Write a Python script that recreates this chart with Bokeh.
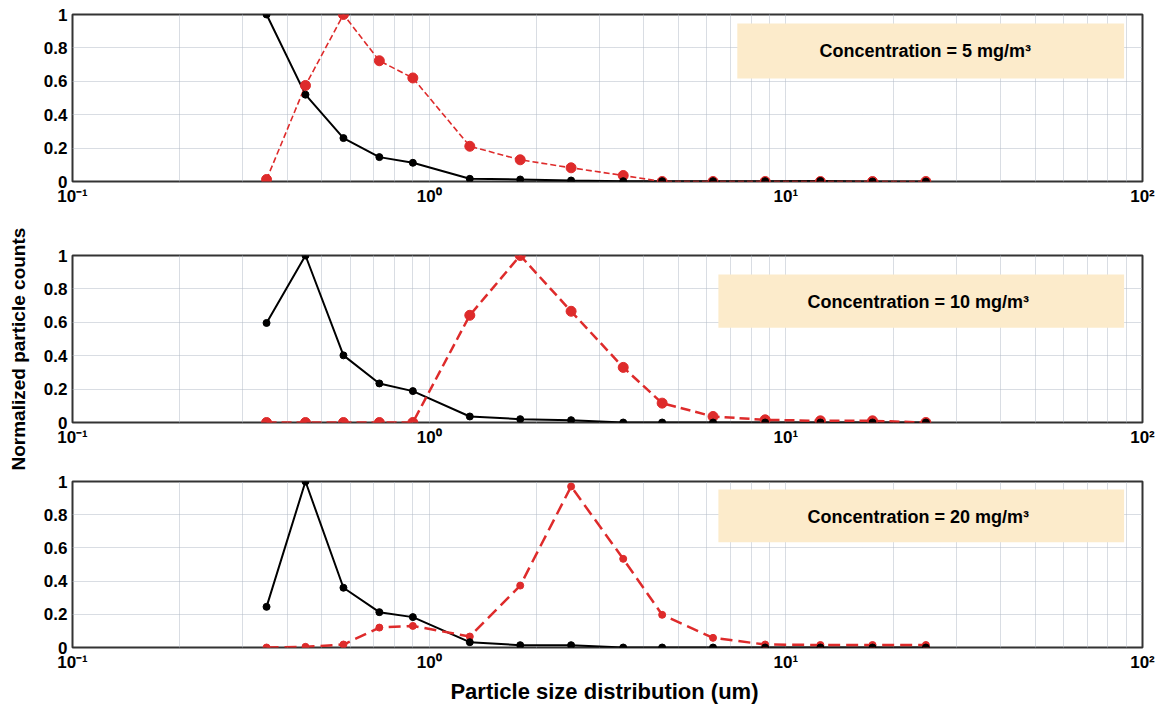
import math
from bokeh.plotting import figure
from bokeh.layouts import column, row
from bokeh.models import (FixedTicker, CustomJSTickFormatter, BoxAnnotation,
                          Label, Range1d)
from bokeh.embed import file_html
from bokeh.resources import INLINE

# ---------------- data ----------------
size_um = [0.35, 0.45, 0.575, 0.725, 0.9, 1.3, 1.8, 2.5, 3.5, 4.5,
           6.25, 8.75, 12.5, 17.5, 24.7]

black_5 = [1.0, 0.52, 0.26, 0.146, 0.112, 0.016, 0.012, 0.006, 0.002,
           0.002, 0.002, 0.002, 0.003, 0.0, 0.0]
red_5 = [0.012, 0.575, 1.0, 0.723, 0.62, 0.211, 0.13, 0.082, 0.036,
         0.0, 0.0, 0.0, 0.0, 0.0, 0.0]

black_10 = [0.596, 1.0, 0.402, 0.234, 0.188, 0.036, 0.02, 0.014, 0.0,
            0.0, 0.0, 0.0, 0.0, 0.0, 0.0]
red_10 = [0.0, 0.0, 0.0, 0.0, 0.0, 0.642, 1.0, 0.666, 0.33, 0.116,
          0.036, 0.016, 0.01, 0.01, 0.0]

black_20 = [0.245, 1.0, 0.36, 0.213, 0.183, 0.032, 0.014, 0.014, 0.0,
            0.0, 0.0, 0.0, 0.0, 0.0, 0.0]
red_20 = [0.0, 0.004, 0.018, 0.12, 0.13, 0.066, 0.373, 0.97, 0.534,
          0.197, 0.058, 0.018, 0.015, 0.015, 0.015]

panel_labels = ["Concentration = 5 mg/m\u00b3",
                "Concentration = 10 mg/m\u00b3",
                "Concentration = 20 mg/m\u00b3"]

x_major = [0.1, 1, 10, 100]
x_minor = [m * 10.0 ** e for e in (-1, 0, 1) for m in range(2, 10)]
y_ticks = [0, 0.2, 0.4, 0.6, 0.8, 1.0]

x_title = "Particle  size distribution (um)"
y_title = "Normalized particle  counts"

# ---------------- styling ----------------
FONT = "Liberation Sans"
RED = "#de2b2b"
GRID = "#b3bac6"
BOX_FILL = "#fcebcb"

x_fmt = CustomJSTickFormatter(code="""
const e = Math.round(Math.log10(tick));
const sup = {"-1": "\\u207b\\u00b9", "0": "\\u2070", "1": "\\u00b9", "2": "\\u00b2"};
return "10" + sup[String(e)];
""")
y_fmt = CustomJSTickFormatter(code="return String(+tick.toFixed(1));")


def make_panel(black, red, text, box, text_pos, borders, red_style, xlabel=None):
    top, fh, bottom = borders
    p = figure(x_axis_type="log", x_range=Range1d(0.1, 100), y_range=Range1d(0, 1),
               frame_width=1070, frame_height=fh,
               min_border_left=36, min_border_right=14,
               min_border_top=top, min_border_bottom=bottom,
               toolbar_location=None, output_backend="svg")
    p.outline_line_color = "#333333"
    p.outline_line_width = 2
    p.background_fill_color = "white"

    p.xaxis.ticker = FixedTicker(ticks=x_major, minor_ticks=x_minor)
    p.yaxis.ticker = FixedTicker(ticks=y_ticks)
    p.xaxis.formatter = x_fmt
    p.yaxis.formatter = y_fmt
    for ax in (p.xaxis, p.yaxis):
        ax.axis_line_color = None
        ax.major_tick_line_color = None
        ax.minor_tick_line_color = None
        ax.major_tick_out = 0
        ax.major_tick_in = 0
        ax.minor_tick_out = 0
        ax.major_label_text_font = FONT
        ax.major_label_text_font_style = "bold"
        ax.major_label_text_font_size = "17px"
        ax.major_label_text_color = "black"
    p.xaxis.major_label_standoff = 5
    p.yaxis.major_label_standoff = 5

    if xlabel:
        p.xaxis.axis_label = xlabel
        p.xaxis.axis_label_text_font = FONT
        p.xaxis.axis_label_text_font_style = "bold"
        p.xaxis.axis_label_text_font_size = "22px"
        p.xaxis.axis_label_text_color = "black"
        p.xaxis.axis_label_standoff = 4

    p.xgrid.ticker = FixedTicker(ticks=x_major, minor_ticks=x_minor)
    p.ygrid.ticker = FixedTicker(ticks=y_ticks)
    for g in (p.xgrid, p.ygrid):
        g.grid_line_color = GRID
        g.grid_line_dash = "1 1"
        g.grid_line_width = 1
    p.xgrid.minor_grid_line_color = GRID
    p.xgrid.minor_grid_line_dash = "1 1"
    p.xgrid.minor_grid_line_width = 1

    left, right, b, t = box
    p.add_layout(BoxAnnotation(left=left, right=right, bottom=b, top=t,
                               fill_color=BOX_FILL, fill_alpha=1.0,
                               line_color=None, level="underlay"))
    p.add_layout(Label(x=text_pos[0], y=text_pos[1], text=text,
                       text_align="center", text_baseline="middle",
                       text_font=FONT, text_font_style="bold",
                       text_font_size="18px", text_color="black"))

    lw, dash, msize = red_style
    p.line(size_um, black, line_color="black", line_width=2)
    p.line(size_um, red, line_color=RED, line_width=lw, line_dash=dash)
    p.scatter(size_um, red, size=msize, fill_color=RED, line_color=RED)
    p.scatter(size_um, black, size=7, fill_color="black", line_color="black")
    return p


p1 = make_panel(black_5, red_5, panel_labels[0],
                (7.31, 88.8, 0.617, 0.946), (24.6, 0.784),
                (14, 167, 66), (1.6, "6 3", 10))
p2 = make_panel(black_10, red_10, panel_labels[1],
                (6.47, 88.8, 0.568, 0.886), (23.5, 0.72),
                (8, 167, 51), (2.5, "10 5", 10))
p3 = make_panel(black_20, red_20, panel_labels[2],
                (6.47, 88.8, 0.634, 0.952), (23.5, 0.785),
                (8, 166, 59), (2.5, "12 6", 7), xlabel=x_title)

yf = figure(width=36, height=706, x_range=Range1d(0, 1), y_range=Range1d(0, 1),
            x_axis_type=None, y_axis_type=None, min_border=0,
            toolbar_location=None, output_backend="svg")
yf.outline_line_color = None
yf.grid.visible = False
yf.add_layout(Label(x=0.5, y=0.51, text=y_title, angle=math.pi / 2,
                    text_align="center", text_baseline="middle",
                    text_font=FONT, text_font_style="bold",
                    text_font_size="19px", text_color="black"))

layout = row(yf, column(p1, p2, p3, spacing=0), spacing=0)

open("out.html", "w", encoding="utf-8").write(file_html(layout, INLINE))
